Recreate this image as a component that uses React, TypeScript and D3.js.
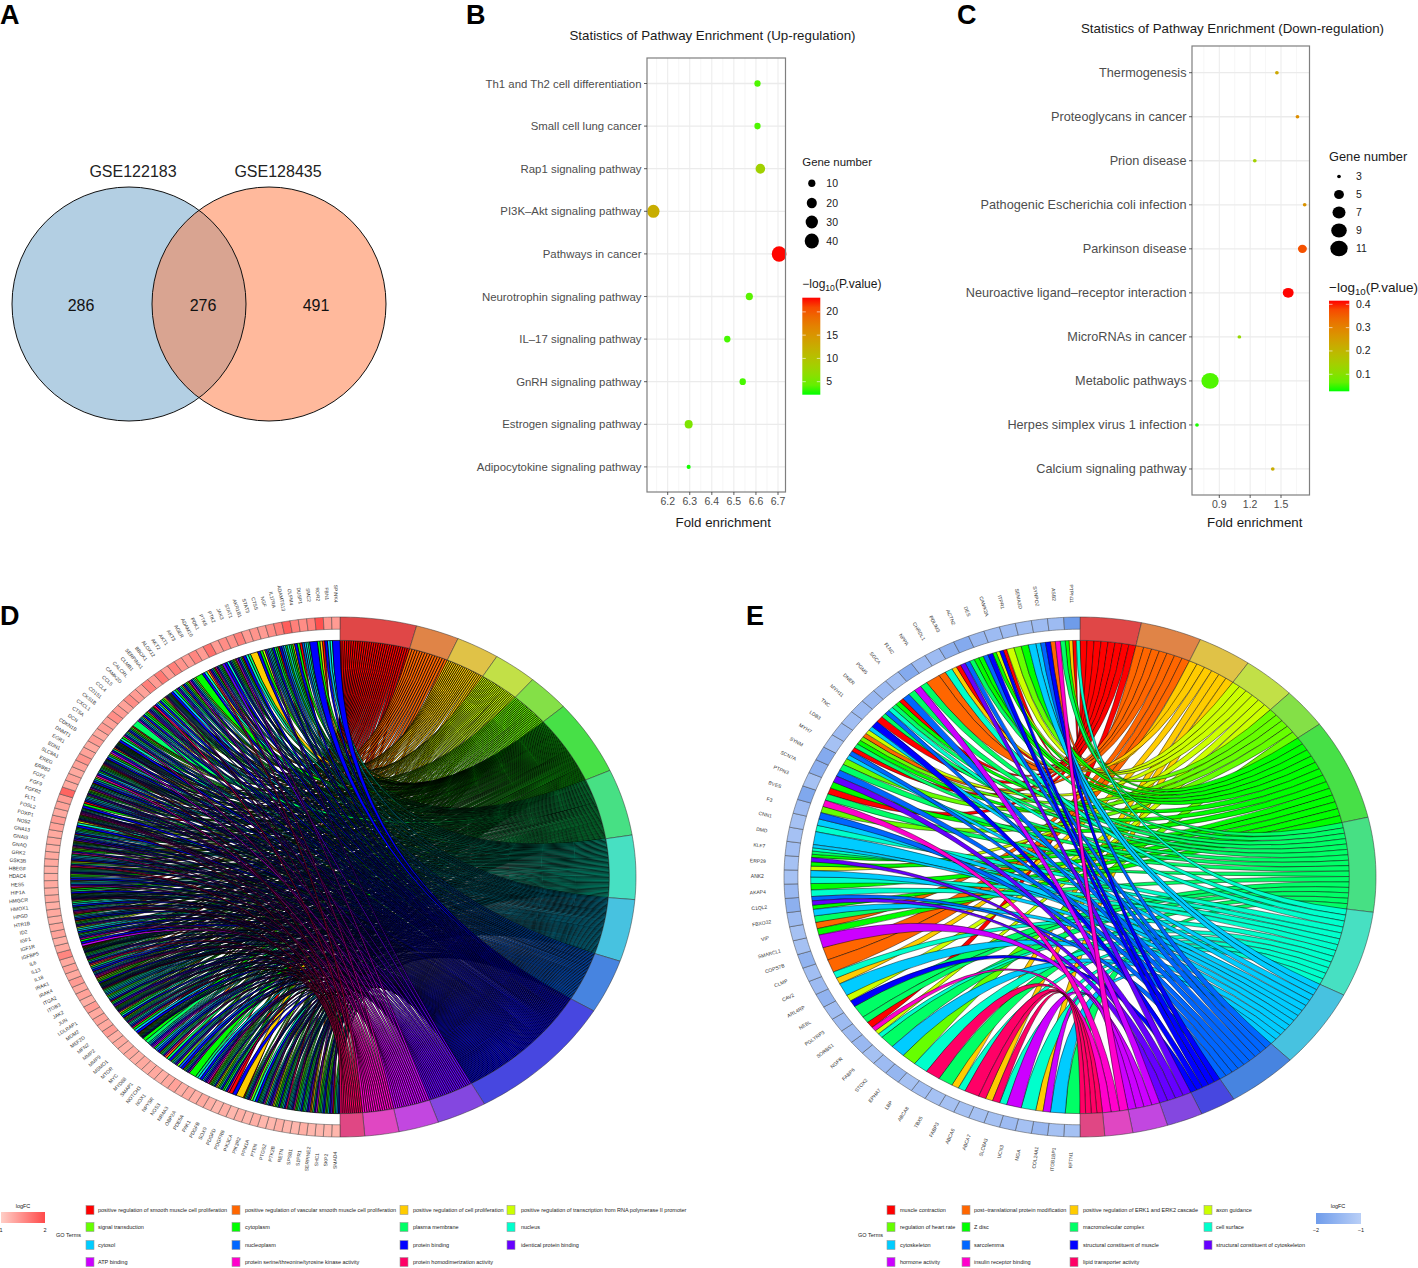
import React from "react";
import * as d3 from "d3";

const FONT = "'Liberation Sans', Arial, sans-serif";

// ---------- Panel A ----------
const vennSets = ["GSE122183", "GSE128435"];
const vennCounts = [286, 276, 491];

// ---------- Panel B ----------
const upPathways = ["Th1 and Th2 cell differentiation", "Small cell lung cancer", "Rap1 signaling pathway", "PI3K–Akt signaling pathway", "Pathways in cancer", "Neurotrophin signaling pathway", "IL–17 signaling pathway", "GnRH signaling pathway", "Estrogen signaling pathway", "Adipocytokine signaling pathway"];
const upFold = [6.607, 6.607, 6.62, 6.135, 6.705, 6.57, 6.47, 6.54, 6.295, 6.295];
const upCount = [7.5, 7.5, 18, 30, 43, 10, 8, 8, 12.5, 3];
const upLogP = [3.4, 3.4, 8.2, 12.5, 23, 3.8, 3.2, 3.2, 5.6, 2.3];
const upXTicks = [6.2, 6.3, 6.4, 6.5, 6.6, 6.7];
const upSizeLegend = [10, 20, 30, 40];
const upColorTicks = [20, 15, 10, 5];

// ---------- Panel C ----------
const downPathways = ["Thermogenesis", "Proteoglycans in cancer", "Prion disease", "Pathogenic Escherichia coli infection", "Parkinson disease", "Neuroactive ligand–receptor interaction", "MicroRNAs in cancer", "Metabolic pathways", "Herpes simplex virus 1 infection", "Calcium signaling pathway"];
const downFold = [1.46, 1.66, 1.245, 1.73, 1.708, 1.57, 1.095, 0.81, 0.683, 1.42];
const downCount = [3, 3, 3, 3, 4.6, 5.6, 3, 11, 3, 3];
const downLogP = [0.23, 0.28, 0.14, 0.27, 0.37, 0.415, 0.12, 0.05, 0.03, 0.22];
const downXTicks = [0.9, 1.2, 1.5];
const downSizeLegend = [3, 5, 7, 9, 11];
const downColorTicks = [0.4, 0.3, 0.2, 0.1];

// ---------- GO chords ----------
const ribbonColors = ["#ff0000", "#ff6600", "#ffcc00", "#ccff00", "#66ff00", "#00ff00", "#00ff66", "#00ffcc", "#00ccff", "#0066ff", "#0000ff", "#6600ff", "#cc00ff", "#ff00cc", "#ff0066"];

const termsD = ["positive regulation of smooth muscle cell proliferation", "positive regulation of vascular smooth muscle cell proliferation", "positive regulation of cell proliferation", "positive regulation of transcription from RNA polymerase II promoter", "signal transduction", "cytoplasm", "plasma membrane", "nucleus", "cytosol", "nucleoplasm", "protein binding", "identical protein binding", "ATP binding", "protein serine/threonine/tyrosine kinase activity", "protein homodimerization activity"];
const termSpansD = [15, 8.5, 8.5, 8.6, 8.4, 16.8, 14.9, 14.3, 13.9, 12.1, 29.8, 9.8, 7.9, 6.7, 4.8];
const genesD = ["SPINK4", "FBN1", "ROR2", "SMC2", "DUSP1", "OLFM4", "ADAMTS13", "IL17RA", "NGF", "CTSS", "STAT3", "AKR1B1", "STAT1", "JAK3", "PTK2", "PTK6", "PDK1", "ADAM10", "AGER", "AKT3", "AKT1", "AKT2", "ALOX12", "BBOX1", "SERPINA1", "CLMB1", "CALCRL", "CAMK2D", "CCL5", "CCL4", "CD151", "CKS1B", "CXCL1", "CTSA", "DCN", "CDKN1B", "DNMT1", "EGR1", "EDN1", "SLC8A1", "EREG", "ERBB2", "FGF2", "FGF9", "FGFR2", "FLT1", "FOSL2", "FOXP1", "NOS2", "GNA13", "GNAI3", "GNAQ", "GRK2", "GSK3B", "HBEGF", "HDAC4", "HES5", "HIF1A", "HMGCR", "HMOX1", "HPGD", "HTR1B", "ID2", "IGF1", "IGF1R", "IGFBP5", "IL6", "IL13", "IL18", "IRAK1", "IRAK4", "ITGA2", "ITGB3", "JAK2", "JUN", "LDLRAP1", "MDM2", "MEF2D", "MFN2", "MMP2", "MMP9", "MSMO1", "MTOR", "MYC", "MYD88", "SMAP1", "NOTCH3", "NOX1", "NPY5R", "NOS3", "NR4A3", "OBP2A", "PDE5A", "PAK1", "PDGFB", "SOX9", "PDGFD", "PDGFRB", "PIK3CA", "PIK3R2", "PPM1A", "PTEN", "PTGS2", "PTK2B", "RETN", "SPSB1", "S1PR1", "SERPINE2", "SHC1", "SKP2", "SMAD4"];
const logFCD = [1.3, 1.35, 1.85, 1.5, 1.4, 1.5, 1.75, 1.5, 1.4, 1.3, 1.35, 1.3, 1.5, 1.35, 1.4, 1.3, 1.6, 1.3, 1.45, 1.3, 1.35, 1.5, 1.3, 1.55, 1.3, 1.5, 1.25, 1.3, 1.4, 1.25, 1.3, 1.4, 1.25, 1.3, 1.2, 1.3, 1.2, 1.25, 1.35, 1.25, 1.2, 1.25, 1.2, 1.7, 1.3, 1.25, 1.2, 1.3, 1.25, 1.2, 1.2, 1.15, 1.2, 1.2, 1.15, 1.15, 1.2, 1.15, 1.2, 1.15, 1.2, 1.15, 1.2, 1.25, 1.15, 1.2, 1.45, 1.2, 1.25, 1.2, 1.3, 1.2, 1.25, 1.15, 1.3, 1.2, 1.25, 1.2, 1.3, 1.15, 1.2, 1.15, 1.2, 1.15, 1.2, 1.15, 1.2, 1.15, 1.2, 1.25, 1.15, 1.2, 1.15, 1.2, 1.15, 1.1, 1.15, 1.1, 1.15, 1.1, 1.15, 1.1, 1.1, 1.15, 1.1, 1.1, 1.15, 1.1, 1.1, 1.1, 1.1];
// Per gene, from the bottom of the circle clockwise: letters A..O are the GO terms.
const linksD = ["KJHFA", "LKIFE", "KJGFD", "MKGCB", "LKHGF", "KIHFE", "NKJIHG", "OKIGF", "KGFDC", "LKJHD", "MKIHGF", "KHE", "NKJIFA", "C", "KA", "OKGF", "KIFDC", "KHGFEA", "NLKJH", "KIG", "F", "MKJGFB", "KJE", "LKIHGD", "KGB", "NKHGFA", "KJIF", "MLKIH", "GF", "LKJIHGFEDCBA", "KIF", "OKJHG", "NKIGFDA", "KHFC", "MKJIGFEB", "LKGFA", "KIHFD", "JIHGF", "OLKJIHGFEA", "KFEDA", "NMKIHB", "KJGC", "OKIFA", "LKHGFE", "KJIHGFDCBA", "MKF", "NKJGE", "KIHD", "LKGFCA", "KJIFB", "OMKHGF", "KIGE", "NLKJIHFDA", "KGFA", "MKIHC", "KJFE", "LKIHGFB", "OKGDA", "KJIHF", "NKFEC", "MKIGFDB", "LKJHA", "KIGFE", "KHD", "OKJIGFCA", "NMLKHGF", "KFA", "KJIHE", "LKGFDB", "MKIHFA", "KJGC", "NKIF", "KHGFED", "OLKJIHFA", "KIFC", "MKGB", "LKJIHGFEDA", "KHF", "NKIGD", "KJFEA", "G", "MKIHC", "KGFB", "LKJHFA", "OKIE", "KGFD", "NMKJIHGFCA", "KIF", "LKHGB", "KJFEA", "MKIGD", "F", "KHC", "OKJFA", "NKIGFE", "LKH", "KJGFDB", "MKIFA", "KHG", "C", "KFD", "LJIHG", "KGFA", "KJIF", "HGFC", "KFA", "JIHG", "K", "FCA", "KIH", "K"];

const termsE = ["muscle contraction", "post–translational protein modification", "positive regulation of ERK1 and ERK2 cascade", "axon guidance", "regulation of heart rate", "Z disc", "macromolecular complex", "cell surface", "cytoskeleton", "sarcolemma", "structural constituent of muscle", "structural constituent of cytoskeleton", "hormone activity", "insulin receptor binding", "lipid transporter activity"];
const termSpansE = [12, 12, 10.6, 10.4, 9, 22.7, 21.1, 19.2, 17.8, 13.9, 7, 7.1, 6.9, 5.5, 4.8];
const genesE = ["PTPN11", "ASB2", "SYNPO2", "SEMA3D", "ITPR1", "CAMK2A", "DES", "ACTN2", "PDLIM3", "CHRDL1", "NPPA", "FLNC", "SGCA", "PGM5", "DNER", "MYH11", "TNC", "LDB3", "MYH7", "SYNM", "SCN7A", "PTPN3", "BVES", "F3", "CNN1", "DMD", "KLF7", "ERP29", "ANK2", "AKAP4", "C1QL2", "FBXO32", "VIP", "SMARCL1", "COPS7B", "CLMP", "CAV2", "ARL4RP", "NEBL", "PGLYRP3", "SORBS1", "NGFR", "FABP6", "STOX2", "EPHA7", "LBP", "ABCA8", "TBX5", "FABP3", "ABCA6", "ABCA7", "SLC8A3", "UCN3", "MGA", "COL24A1", "ITGB1BP1", "RFTN1"];
const logFCE = [-1.85, -1.3, -1.3, -1.25, -1.3, -1.3, -1.35, -1.6, -1.5, -1.3, -1.3, -1.6, -1.25, -1.3, -1.35, -1.3, -1.25, -1.3, -1.2, -1.6, -1.5, -1.2, -1.65, -1.3, -1.2, -1.2, -1.25, -1.2, -1.2, -1.35, -1.5, -1.3, -1.2, -1.2, -1.45, -1.25, -1.3, -1.45, -1.25, -1.3, -1.3, -1.35, -1.2, -1.3, -1.4, -1.2, -1.25, -1.2, -1.2, -1.2, -1.2, -1.2, -1.3, -1.2, -1.35, -1.2, -1.2];
const linksE = ["G", "I", "MC", "H", "M", "HO", "CO", "O", "HC", "G", "O", "H", "E", "I", "G", "HDN", "AG", "G", "KD", "I", "CH", "B", "B", "M", "FB", "GI", "FLJ", "HF", "HI", "DFL", "FGHI", "I", "HI", "JE", "NG", "AF", "LJ", "GE", "IJA", "GFE", "BDI", "KA", "GJH", "GFA", "JG", "MG", "B", "BH", "CAL", "JGF", "FJK", "FDKA", "DE", "FI", "IJK", "BNG", "FCAH"];

const LETTERS = "ABCDEFGHIJKLMNO";
const deg = Math.PI / 180;
const greenRed = d3.interpolateLab("#00ff00", "#ff0000");

function PlotPanel(p: any) {
  const { xDomain, xRange, top, bottom, left, right, names, fold, count, logP, ticks, minors, yFirst, yStep, colorDomain, rScale, stretch, title, titleX, titleY, labelFont } = p;
  const x = d3.scaleLinear().domain(xDomain).range(xRange);
  const y = d3.scaleLinear().domain([0, names.length - 1]).range([yFirst, yFirst + yStep * (names.length - 1)]);
  const col = (v: number) => greenRed((v - colorDomain[0]) / (colorDomain[1] - colorDomain[0]));
  return (
    <g fontFamily={FONT}>
      <text x={titleX} y={titleY} fontSize={p.titleSize} textAnchor="middle" fill="#1a1a1a">{title}</text>
      <rect x={left} y={top} width={right - left} height={bottom - top} fill="#fff" />
      {minors.map((m: number) => <line key={m} x1={x(m)} x2={x(m)} y1={top} y2={bottom} stroke="#f2f2f2" strokeWidth={0.7} />)}
      {ticks.map((m: number) => <line key={m} x1={x(m)} x2={x(m)} y1={top} y2={bottom} stroke="#ebebeb" strokeWidth={1} />)}
      {names.map((n: string, i: number) => <line key={n} x1={left} x2={right} y1={y(i)} y2={y(i)} stroke="#ebebeb" strokeWidth={1.3} />)}
      {names.map((n: string, i: number) => (
        <ellipse key={n} cx={x(fold[i])} cy={y(i)} rx={rScale(count[i]) * stretch} ry={rScale(count[i])} fill={col(logP[i])} />
      ))}
      <rect x={left} y={top} width={right - left} height={bottom - top} fill="none" stroke="#7f7f7f" strokeWidth={1.2} />
      {names.map((n: string, i: number) => (
        <g key={n}>
          <line x1={left - 3} x2={left} y1={y(i)} y2={y(i)} stroke="#333" strokeWidth={0.8} />
          <text x={left - 5.5} y={y(i) + 4} fontSize={labelFont} textAnchor="end" fill="#4d4d4d">{n}</text>
        </g>
      ))}
      {ticks.map((t: number) => (
        <g key={t}>
          <line x1={x(t)} x2={x(t)} y1={bottom} y2={bottom + 3} stroke="#333" strokeWidth={0.8} />
          <text x={x(t)} y={bottom + 13} fontSize={10.5} textAnchor="middle" fill="#4d4d4d">{t.toFixed(1)}</text>
        </g>
      ))}
      <text x={(left + right) / 2 + p.xLabelShift} y={p.xLabelY} fontSize={13.3} textAnchor="middle" fill="#1a1a1a">Fold enrichment</text>
    </g>
  );
}

function Legends(p: any) {
  const { id, x, sizeTitleY, sizes, sizeYs, rScale, stretch, colorTitleY, barTop, barBottom, barW, colorDomain, colorTicks, circleDx, labelDx, tickFmt, sizeTitleFont, colorTitleFont } = p;
  const y = d3.scaleLinear().domain(colorDomain).range([barBottom, barTop]);
  const stops = d3.range(0, 1.0001, 0.1);
  return (
    <g fontFamily={FONT} fill="#1a1a1a">
      <text x={x} y={sizeTitleY} fontSize={sizeTitleFont}>Gene number</text>
      {sizes.map((s: number, i: number) => (
        <g key={s}>
          <ellipse cx={x + circleDx} cy={sizeYs[i]} rx={rScale(s) * stretch} ry={rScale(s)} fill="#000" />
          <text x={x + labelDx} y={sizeYs[i] + 3.5} fontSize={10.5}>{s}</text>
        </g>
      ))}
      <text x={x} y={colorTitleY} fontSize={colorTitleFont}>{"−log"}<tspan fontSize={colorTitleFont * 0.72} dy={3}>10</tspan><tspan dy={-3}>(P.value)</tspan></text>
      <defs>
        <linearGradient id={id} x1="0" x2="0" y1="1" y2="0">
          {stops.map(s => <stop key={s} offset={s} stopColor={greenRed(s)} />)}
        </linearGradient>
      </defs>
      <rect x={x} y={barTop} width={barW} height={barBottom - barTop} fill={`url(#${id})`} />
      {colorTicks.map((t: number) => (
        <g key={t}>
          <line x1={x} x2={x + 3.5} y1={y(t)} y2={y(t)} stroke="#fff" strokeWidth={0.6} />
          <line x1={x + barW - 3.5} x2={x + barW} y1={y(t)} y2={y(t)} stroke="#fff" strokeWidth={0.6} />
          <text x={x + labelDx} y={y(t) + 3.5} fontSize={10.5}>{tickFmt(t)}</text>
        </g>
      ))}
    </g>
  );
}

function Chord(p: any) {
  const { cx, cy, genes, logFC, links, spans, fcColor, ribbonStroke } = p;
  const xs = d3.scaleLinear().domain([-1, 1]).range([cx - 296, cx + 296]);
  const ys = d3.scaleLinear().domain([-1, 1]).range([cy + 260, cy - 260]);
  const px = (r: number, a: number): [number, number] => [xs(r * Math.sin(a * deg)), ys(r * Math.cos(a * deg))];
  const R = 0.91;

  const band = (a0: number, a1: number, r0: number, r1: number) => {
    const path = d3.path();
    const n = Math.max(2, Math.ceil(Math.abs(a1 - a0) / 1));
    const as = d3.range(n + 1).map(i => a0 + ((a1 - a0) * i) / n);
    as.forEach((a, i) => { const q = px(r1, a); i ? path.lineTo(q[0], q[1]) : path.moveTo(q[0], q[1]); });
    as.slice().reverse().forEach(a => { const q = px(r0, a); path.lineTo(q[0], q[1]); });
    path.closePath();
    return path.toString();
  };

  const termStart: number[] = [];
  spans.reduce((acc: number, s: number, i: number) => { termStart[i] = acc; return acc + s; }, 0);
  const reversedGenes = genes.slice().reverse();
  const reversedFC = logFC.slice().reverse();
  const G = links.length;
  const tile = 180 / G;

  type Rib = { term: number; gene: number; g0: number; g1: number };
  const ribs: Rib[] = [];
  links.forEach((s: string, g: number) => {
    const w = tile / s.length;
    s.split("").forEach((c, i) => {
      ribs.push({ term: LETTERS.indexOf(c), gene: g, g0: 180 + g * tile + i * w, g1: 180 + g * tile + (i + 1) * w });
    });
  });

  const center = [xs(0), ys(0)];
  const paths: { d: string; c: string; k: string }[] = [];
  spans.forEach((span: number, t: number) => {
    const members = ribs.filter(r => r.term === t).sort((a, b) => b.gene - a.gene);
    const w = span / members.length;
    members.forEach((r, i) => {
      const a0 = termStart[t] + i * w;
      const a1 = a0 + w;
      const path = d3.path();
      const s0 = px(R, a0), s1 = px(R, a1), e0 = px(R, r.g0), e1 = px(R, r.g1);
      path.moveTo(s0[0], s0[1]);
      path.lineTo(s1[0], s1[1]);
      path.quadraticCurveTo(center[0], center[1], e0[0], e0[1]);
      path.lineTo(e1[0], e1[1]);
      path.quadraticCurveTo(center[0], center[1], s0[0], s0[1]);
      path.closePath();
      paths.push({ d: path.toString(), c: ribbonColors[t], k: `${t}-${i}` });
    });
  });

  return (
    <g>
      {paths.map(r => <path key={r.k} d={r.d} fill={r.c} stroke="#000" strokeWidth={ribbonStroke} />)}
      {spans.map((s: number, t: number) => (
        <path key={t} d={band(termStart[t], termStart[t] + s, R, 1)} fill={d3.interpolateRgb(ribbonColors[t], "#b2b2b2")(0.4)} stroke="#333" strokeWidth={0.5} />
      ))}
      {reversedGenes.map((g: string, i: number) => {
        const a0 = 180 + i * tile;
        return <path key={g + i} d={band(a0, a0 + tile, 0.953, 1)} fill={fcColor(reversedFC[i])} stroke="#444" strokeWidth={0.5} />;
      })}
      {reversedGenes.map((g: string, i: number) => {
        const a = 180 + (i + 0.5) * tile;
        const q = px(1.09, a);
        return (
          <text key={g + i} x={q[0]} y={q[1]} fontFamily={FONT} fontSize={5} fill="#333" textAnchor="middle" dominantBaseline="middle" transform={`rotate(${a - 270} ${q[0]} ${q[1]})`}>{g}</text>
        );
      })}
    </g>
  );
}

function GoLegend(p: any) {
  const { terms, colX, textX, goX } = p;
  const rows = [1210, 1227, 1245, 1262];
  return (
    <g fontFamily={FONT} fontSize={5.5} fill="#222">
      <text x={goX} y={1237}>GO Terms</text>
      {terms.map((t: string, i: number) => {
        const col = i < 12 ? i % 4 : i - 12;
        const row = i < 12 ? Math.floor(i / 4) : 3;
        return (
          <g key={t}>
            <rect x={colX[col]} y={rows[row] - 4.5} width={8} height={9} fill={ribbonColors[i]} stroke="#999" strokeWidth={0.6} />
            <text x={textX[col]} y={rows[row] + 2}>{t}</text>
          </g>
        );
      })}
    </g>
  );
}

export default function App() {
  const upArea = d3.scaleLinear().domain([3, 43]).range([4.6, 60]);
  const upR = (n: number) => Math.sqrt(upArea(n));
  const dnArea = d3.scaleLinear().domain([3, 5, 7, 9, 11]).range([2.9, 20, 35, 50, 62]);
  const dnR = (n: number) => Math.sqrt(dnArea(n));
  const fcD = d3.scaleLinear<string>().domain([1, 2]).range(["#ffc4b8", "#ff3b3b"]);
  const fcE = d3.scaleLinear<string>().domain([-2, -1]).range(["#6394e8", "#b6ccf6"]);
  const panels = [["A", 0, 24], ["B", 466, 24], ["C", 957, 24], ["D", 0, 625], ["E", 746, 625]] as [string, number, number][];
  const circles = [[129, 304], [269, 304]];
  return (
    <svg width={1418} height={1268} style={{ position: "absolute", left: 0, top: 0, background: "#fff" }}>
      <rect width={1418} height={1268} fill="#fff" />
      {panels.map(([t, x, y]) => <text key={t} x={x} y={y} fontFamily={FONT} fontWeight="bold" fontSize={27} fill="#000">{t}</text>)}

      <g fontFamily={FONT}>
        <defs><clipPath id="vc"><circle cx={circles[0][0]} cy={circles[0][1]} r={117} /></clipPath></defs>
        <circle cx={circles[0][0]} cy={circles[0][1]} r={117} fill="#b3cfe3" />
        <circle cx={circles[1][0]} cy={circles[1][1]} r={117} fill="#ffb99c" />
        <circle cx={circles[1][0]} cy={circles[1][1]} r={117} fill="#d9a491" clipPath="url(#vc)" />
        <circle cx={circles[0][0]} cy={circles[0][1]} r={117} fill="none" stroke="#111" strokeWidth={1} />
        <circle cx={circles[1][0]} cy={circles[1][1]} r={117} fill="none" stroke="#111" strokeWidth={1} />
        <text x={133} y={177} fontSize={16} textAnchor="middle" fill="#222">{vennSets[0]}</text>
        <text x={278} y={177} fontSize={16} textAnchor="middle" fill="#222">{vennSets[1]}</text>
        <text x={81} y={311} fontSize={16} textAnchor="middle" fill="#111">{vennCounts[0]}</text>
        <text x={203} y={311} fontSize={16} textAnchor="middle" fill="#111">{vennCounts[1]}</text>
        <text x={316} y={311} fontSize={16} textAnchor="middle" fill="#111">{vennCounts[2]}</text>
      </g>

      <PlotPanel xDomain={[6.2, 6.7]} xRange={[667.7, 778]} top={58} bottom={492} left={647} right={785.5}
        names={upPathways} fold={upFold} count={upCount} logP={upLogP} ticks={upXTicks} minors={[6.15, 6.25, 6.35, 6.45, 6.55, 6.65]}
        yFirst={83.5} yStep={42.6} colorDomain={[2.2, 23.05]} rScale={upR} stretch={0.95}
        title="Statistics of Pathway Enrichment (Up-regulation)" titleX={712.5} titleY={40} titleSize={13.3} labelFont={11.4} xLabelShift={7} xLabelY={527} />
      <Legends id="gb" x={802.3} sizeTitleY={166} sizes={upSizeLegend} sizeYs={[183.3, 203, 222, 241]} rScale={upR} stretch={0.95}
        colorTitleY={288} barTop={297.7} barBottom={394.7} barW={18} colorDomain={[2.2, 23.05]} colorTicks={upColorTicks}
        circleDx={9.5} labelDx={24} tickFmt={(t: number) => String(t)} sizeTitleFont={11.4} colorTitleFont={12} />

      <PlotPanel xDomain={[0.9, 1.5]} xRange={[1219.3, 1281]} top={46} bottom={495} left={1192} right={1309.5}
        names={downPathways} fold={downFold} count={downCount} logP={downLogP} ticks={downXTicks} minors={[0.75, 1.05, 1.35, 1.65]}
        yFirst={72.7} yStep={44.03} colorDomain={[0.027, 0.4155]} rScale={dnR} stretch={1.1}
        title="Statistics of Pathway Enrichment (Down-regulation)" titleX={1232.5} titleY={33} titleSize={13.3} labelFont={12.7} xLabelShift={4} xLabelY={527} />
      <Legends id="gc" x={1329} sizeTitleY={161} sizes={downSizeLegend} sizeYs={[176.5, 194.5, 212.5, 230.5, 248.5]} rScale={dnR} stretch={1.1}
        colorTitleY={292} barTop={300.7} barBottom={391.3} barW={20.3} colorDomain={[0.027, 0.4155]} colorTicks={downColorTicks}
        circleDx={10} labelDx={27} tickFmt={(t: number) => t.toFixed(1)} sizeTitleFont={12.8} colorTitleFont={13.5} />

      <Chord cx={340} cy={877} genes={genesD} logFC={logFCD} links={linksD} spans={termSpansD} fcColor={fcD} ribbonStroke={0.72} />
      <Chord cx={1080} cy={877} genes={genesE} logFC={logFCE} links={linksE} spans={termSpansE} fcColor={fcE} ribbonStroke={0.45} />

      <GoLegend terms={termsD} colX={[86, 232, 400, 507]} textX={[98, 245, 413, 521]} goX={56} />
      <GoLegend terms={termsE} colX={[887, 962, 1070, 1204]} textX={[900, 974, 1083, 1216]} goX={858} />

      <g fontFamily={FONT} fontSize={5.5} fill="#222">
        <defs>
          <linearGradient id="fd"><stop offset="0" stopColor="#ffcfc7" /><stop offset="1" stopColor="#ff4a4a" /></linearGradient>
          <linearGradient id="fe"><stop offset="0" stopColor="#6f9ceb" /><stop offset="1" stopColor="#b9cff7" /></linearGradient>
        </defs>
        <text x={23} y={1208} textAnchor="middle">logFC</text>
        <rect x={1} y={1212} width={44} height={11} fill="url(#fd)" />
        <text x={1} y={1232} textAnchor="middle">1</text>
        <text x={45} y={1232} textAnchor="middle">2</text>
        <text x={1338} y={1208} textAnchor="middle">logFC</text>
        <rect x={1316} y={1213} width={45} height={11} fill="url(#fe)" />
        <text x={1316} y={1232} textAnchor="middle">−2</text>
        <text x={1361} y={1232} textAnchor="middle">−1</text>
      </g>
    </svg>
  );
}
